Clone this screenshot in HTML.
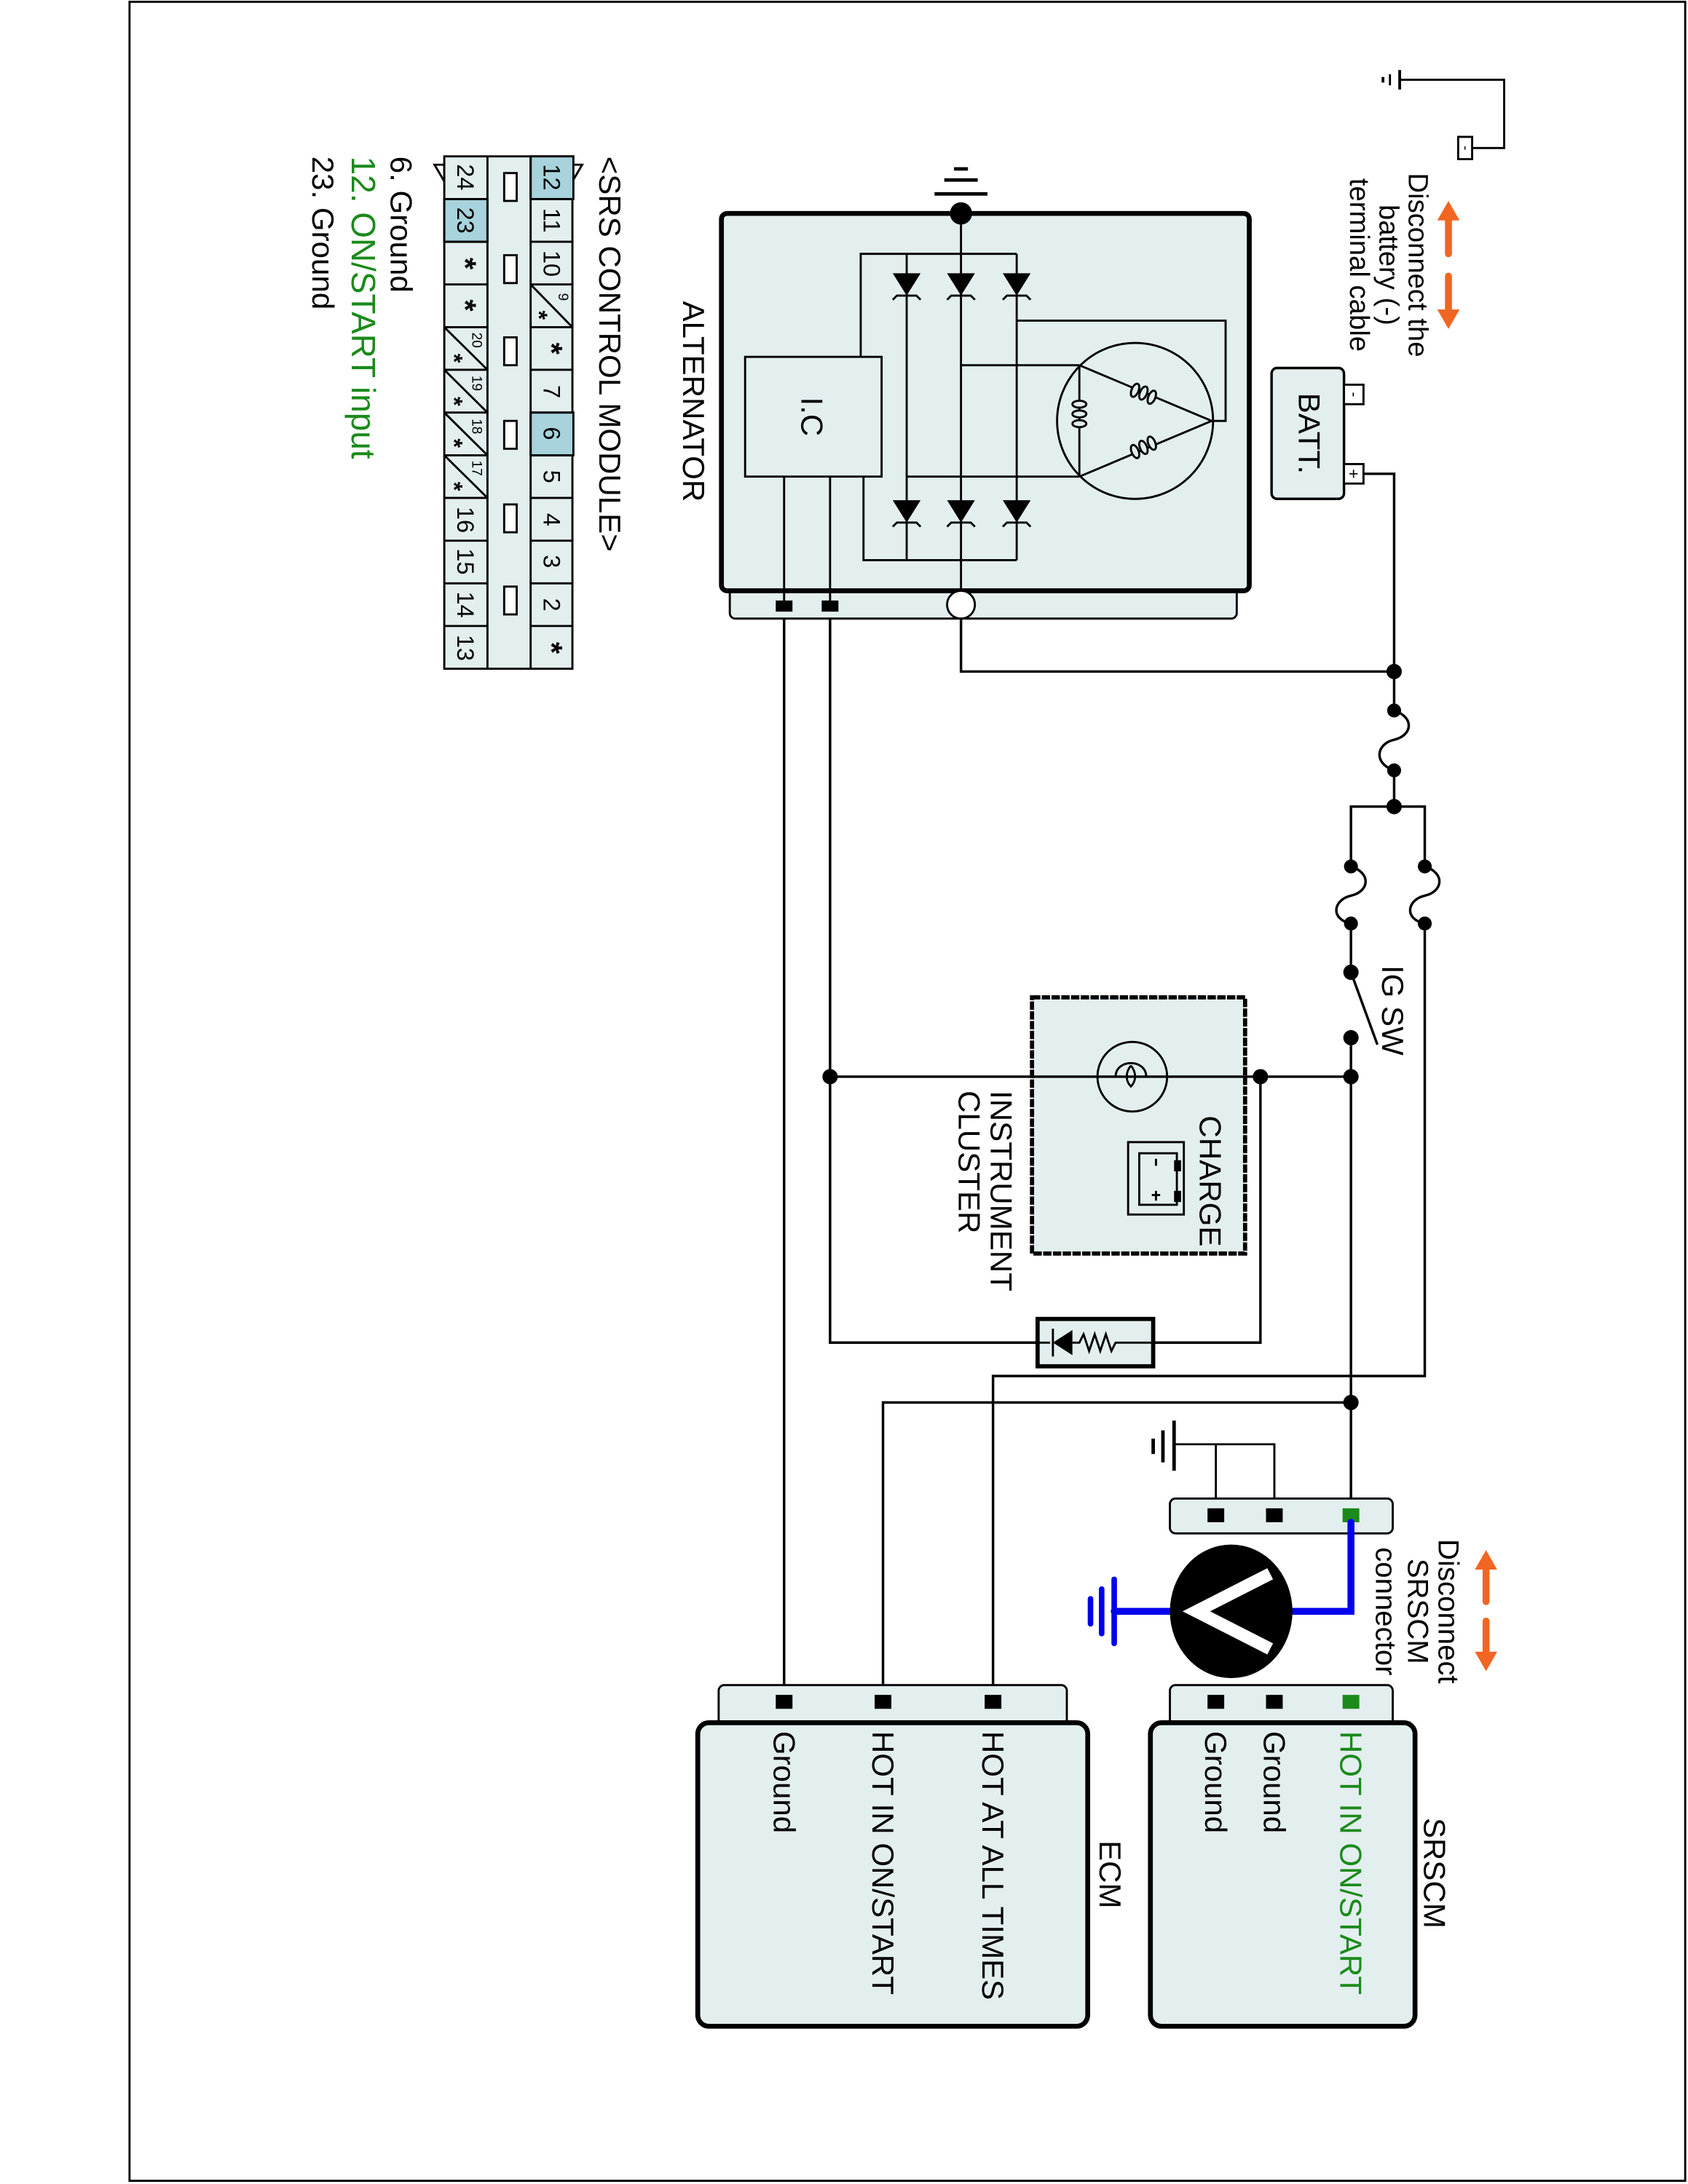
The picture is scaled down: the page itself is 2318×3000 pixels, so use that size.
<!DOCTYPE html>
<html><head><meta charset="utf-8">
<style>
html,body{margin:0;padding:0;background:#fff;}
svg{display:block;}
text{font-family:"Liberation Sans",Arial,sans-serif;}
</style></head>
<body>
<svg width="2318" height="3000" viewBox="0 0 1212 1568" xmlns="http://www.w3.org/2000/svg">
<rect x="0" y="0" width="1212" height="1568" fill="#fff"/>
<rect x="93" y="1" width="1117" height="1565" fill="none" stroke="#000" stroke-width="1.5"/>

<g stroke="#000" stroke-width="1.5" fill="none">
<polyline points="1005,57 1080,57 1080,106 1057,106"/>
<line x1="1005" y1="50" x2="1005" y2="64" stroke-width="2"/>
<line x1="998" y1="53" x2="998" y2="61"/>
<line x1="993" y1="55" x2="993" y2="59" stroke-width="2"/>
<rect x="1047" y="98" width="10" height="16" fill="#fff"/>
</g>
<text transform="translate(1052,106) rotate(90)" font-size="10" text-anchor="middle" dominant-baseline="central">-</text>

<g fill="#f26522" stroke="#f26522">
<line x1="1040" y1="155" x2="1040" y2="182" stroke-width="5" stroke-linecap="round"/>
<polygon points="1040,144 1032,158 1048,158" stroke="none"/>
<line x1="1040" y1="198" x2="1040" y2="224" stroke-width="5" stroke-linecap="round"/>
<polygon points="1040,236 1032,222 1048,222" stroke="none"/>
</g>
<g font-size="20" text-anchor="middle" dominant-baseline="central">
<text transform="translate(1018,190) rotate(90)">Disconnect the</text>
<text transform="translate(997,190) rotate(90)">battery (-)</text>
<text transform="translate(976,190) rotate(90)">terminal cable</text>
</g>

<rect x="913" y="264" width="52" height="94" rx="4" fill="#e3eeef" stroke="#000" stroke-width="1.8"/>
<rect x="965" y="276" width="14" height="14" fill="#fff" stroke="#000" stroke-width="1.5"/>
<rect x="965" y="333" width="14" height="14" fill="#fff" stroke="#000" stroke-width="1.5"/>
<text transform="translate(972,283) rotate(90)" font-size="11" text-anchor="middle" dominant-baseline="central">-</text>
<text transform="translate(972,340) rotate(90)" font-size="12" text-anchor="middle" dominant-baseline="central">+</text>
<text transform="translate(940,311) rotate(90)" font-size="22" text-anchor="middle" dominant-baseline="central">BATT.</text>

<rect x="524" y="420" width="364" height="24" rx="4" fill="#e3eeef" stroke="#000" stroke-width="1.5"/>
<rect x="518" y="153" width="379" height="271" rx="4" fill="#e3eeef" stroke="#000" stroke-width="3.5"/>
<g stroke="#000" stroke-width="1.5" fill="none">
<rect x="535" y="256" width="98" height="86" />
<polyline points="618,256 618,182 730,182"/>
<polyline points="620,342 620,402 730,402"/>
<line x1="651" y1="182" x2="651" y2="402"/>
<line x1="690" y1="153" x2="690" y2="424"/>
<line x1="730" y1="182" x2="730" y2="402"/>
<line x1="563" y1="342" x2="563" y2="435"/>
<line x1="596" y1="342" x2="596" y2="435"/>
<circle cx="815" cy="302" r="56"/>
<polyline points="690,262 775,262"/>
<polyline points="651,342 775,342"/>
<polyline points="730,230 880,230 880,302 870,302"/>
<line x1="775" y1="262" x2="775" y2="342"/>
<line x1="775" y1="262" x2="870" y2="302"/>
<line x1="775" y1="342" x2="870" y2="302"/>
</g>
<g stroke="#000" stroke-width="1.5" fill="#e3eeef">
<ellipse cx="775" cy="290" rx="5" ry="2.5"/><ellipse cx="775" cy="297" rx="5" ry="2.5"/><ellipse cx="775" cy="304" rx="5" ry="2.5"/>
<ellipse cx="815" cy="280" rx="2.5" ry="5" transform="rotate(23 815 280)"/><ellipse cx="821" cy="282" rx="2.5" ry="5" transform="rotate(23 821 282)"/><ellipse cx="827" cy="285" rx="2.5" ry="5" transform="rotate(23 827 285)"/>
<ellipse cx="815" cy="324" rx="2.5" ry="5" transform="rotate(-23 815 324)"/><ellipse cx="821" cy="321" rx="2.5" ry="5" transform="rotate(-23 821 321)"/><ellipse cx="827" cy="318" rx="2.5" ry="5" transform="rotate(-23 827 318)"/>
</g>
<g fill="#000" stroke="#000" stroke-width="1.5">
<g id="d1"><polygon points="641,196 661,196 651,212" stroke="none"/><polyline points="641,215 644,212 658,212 661,215" fill="none"/></g>
<use href="#d1" x="39"/><use href="#d1" x="79"/>
<use href="#d1" y="163"/><use href="#d1" x="39" y="163"/><use href="#d1" x="79" y="163"/>
</g>
<text transform="translate(583,299) rotate(90)" font-size="22" text-anchor="middle" dominant-baseline="central">I.C</text>
<text transform="translate(498,288) rotate(90)" font-size="22" text-anchor="middle" dominant-baseline="central">ALTERNATOR</text>
<circle cx="690" cy="153" r="8" fill="#000"/>
<g stroke="#000" stroke-width="2.5">
<line x1="671" y1="139" x2="709" y2="139"/>
<line x1="678" y1="129" x2="702" y2="129"/>
<line x1="685" y1="121" x2="695" y2="121"/>
</g>
<rect x="557" y="431" width="12" height="8" fill="#000"/>
<rect x="590" y="431" width="12" height="8" fill="#000"/>
<circle cx="690" cy="434" r="10" fill="#fff" stroke="#000" stroke-width="1.5"/>

<g stroke="#000" stroke-width="1.8" fill="none">
<polyline points="979,340 1001,340 1001,510"/>
<path d="M1001,510 C1016,515 1014,528 1001,531 C988,534 986,548 1001,553"/>
<line x1="1001" y1="553" x2="1001" y2="579"/>
<polyline points="690,444 690,482 1001,482"/>
<polyline points="970,622 970,579 1023,579 1023,622"/>
<path d="M970,622 C985,627 983,640 970,643 C957,646 955,660 970,663"/>
<path d="M1023,622 C1038,627 1036,640 1023,643 C1010,646 1008,660 1023,663"/>
<line x1="970" y1="663" x2="970" y2="698"/>
<line x1="970" y1="698" x2="989" y2="750"/>
<line x1="970" y1="745" x2="970" y2="1088"/>
<polyline points="1023,663 1023,988 713,988 713,1222"/>
<polyline points="970,1007 634,1007 634,1222"/>
<line x1="563" y1="444" x2="563" y2="1222"/>
<polyline points="596,444 596,964 828,964"/>
<polyline points="596,773 970,773"/>
<polyline points="905,773 905,964 828,964"/>
</g>
<g fill="#000">
<circle cx="1001" cy="482" r="5.5"/><circle cx="1001" cy="510" r="5"/><circle cx="1001" cy="553" r="5"/><circle cx="1001" cy="579" r="5.5"/>
<circle cx="970" cy="622" r="5"/><circle cx="970" cy="663" r="5"/><circle cx="1023" cy="622" r="5"/><circle cx="1023" cy="663" r="5"/>
<circle cx="970" cy="698" r="5.5"/><circle cx="970" cy="745" r="5.5"/>
<circle cx="970" cy="773" r="5.5"/><circle cx="905" cy="773" r="5.5"/><circle cx="596" cy="773" r="5.5"/>
<circle cx="970" cy="1007" r="5.5"/>
</g>
<text transform="translate(1000,693) rotate(90)" font-size="22" dominant-baseline="central">IG SW</text>

<rect x="741" y="716" width="153" height="184" fill="#e3eeef" stroke="#000" stroke-width="3" stroke-dasharray="6,1"/>
<circle cx="813" cy="773" r="25" fill="#e3eeef" stroke="#000" stroke-width="1.5"/>
<g stroke="#000" stroke-width="1.5" fill="none">
<line x1="741" y1="773" x2="894" y2="773" stroke-width="1.8"/>
<path d="M801,773 C801,760 823,760 823,773 M812,765 C808,770 808,776 812,780 C816,776 816,770 812,765"/>
<rect x="810" y="820" width="40" height="52"/>
<rect x="818" y="828" width="27" height="37"/>
<line x1="830" y1="832" x2="830" y2="837"/>
<line x1="830" y1="855" x2="830" y2="862"/>
<line x1="827" y1="858" x2="833" y2="858"/>
</g>
<rect x="843" y="833" width="5" height="8" fill="#000"/><rect x="843" y="855" width="5" height="8" fill="#000"/>
<text transform="translate(869,848) rotate(90)" font-size="22" text-anchor="middle" dominant-baseline="central">CHARGE</text>
<text transform="translate(719,783) rotate(90)" font-size="22" dominant-baseline="central">INSTRUMENT</text>
<text transform="translate(696,783) rotate(90)" font-size="22" dominant-baseline="central">CLUSTER</text>

<rect x="745" y="947" width="83" height="34" fill="#e3eeef" stroke="#000" stroke-width="3"/>
<g stroke="#000" stroke-width="1.5" fill="none">
<line x1="745" y1="964" x2="754" y2="964"/>
<line x1="756" y1="954" x2="756" y2="974"/>
<polyline points="770,964 775,964 778,958 782,970 786,958 790,970 794,958 798,970 801,964 828,964"/>
</g>
<polygon points="756,964 770,955 770,973" fill="#000"/>

<g stroke="#000" stroke-width="1.5" fill="none">
<polyline points="873,1088 873,1037 915,1037 915,1088"/>
<line x1="843" y1="1037" x2="873" y2="1037"/>
<line x1="843" y1="1020" x2="843" y2="1056" stroke-width="2.5"/>
<line x1="835" y1="1027" x2="835" y2="1050" stroke-width="2.5"/>
<line x1="828" y1="1033" x2="828" y2="1044" stroke-width="2.5"/>
</g>
<rect x="840" y="1076" width="160" height="25" rx="4" fill="#e3eeef" stroke="#000" stroke-width="1.5"/>
<rect x="867" y="1083" width="12" height="10" fill="#000"/>
<rect x="909" y="1083" width="12" height="10" fill="#000"/>
<rect x="964" y="1083" width="12" height="10" fill="#1a8a1a"/>

<g stroke="#0000ee" stroke-width="5" fill="none" stroke-linecap="round">
<polyline points="970,1093 970,1157 927,1157"/>
<line x1="841" y1="1157" x2="800" y2="1157"/>
<line x1="800" y1="1134" x2="800" y2="1180" stroke-width="4"/>
<line x1="791" y1="1141" x2="791" y2="1173" stroke-width="4"/>
<line x1="783" y1="1148" x2="783" y2="1166" stroke-width="4"/>
</g>
<ellipse cx="884" cy="1157" rx="44" ry="48" fill="#000"/>
<polyline points="912,1130 859,1157 912,1184" fill="none" stroke="#fff" stroke-width="9" stroke-linejoin="miter"/>

<g fill="#f26522" stroke="#f26522">
<line x1="1067" y1="1126" x2="1067" y2="1150" stroke-width="5" stroke-linecap="round"/>
<polygon points="1067,1113 1059,1127 1075,1127" stroke="none"/>
<line x1="1067" y1="1164" x2="1067" y2="1188" stroke-width="5" stroke-linecap="round"/>
<polygon points="1067,1200 1059,1186 1075,1186" stroke="none"/>
</g>
<g font-size="21" text-anchor="middle" dominant-baseline="central">
<text transform="translate(1040,1157) rotate(90)">Disconnect</text>
<text transform="translate(1018,1157) rotate(90)">SRSCM</text>
<text transform="translate(995,1157) rotate(90)">connector</text>
</g>

<rect x="840" y="1210" width="160" height="30" rx="4" fill="#e3eeef" stroke="#000" stroke-width="1.5"/>
<rect x="826" y="1237" width="190" height="218" rx="8" fill="#e3eeef" stroke="#000" stroke-width="3.5"/>
<rect x="867" y="1217" width="12" height="10" fill="#000"/>
<rect x="909" y="1217" width="12" height="10" fill="#000"/>
<rect x="964" y="1217" width="12" height="10" fill="#1a8a1a"/>
<g font-size="22" dominant-baseline="central">
<text transform="translate(970,1243) rotate(90)" fill="#1a8a1a">HOT IN ON/START</text>
<text transform="translate(915,1243) rotate(90)">Ground</text>
<text transform="translate(873,1243) rotate(90)">Ground</text>
<text transform="translate(1030,1345) rotate(90)" text-anchor="middle">SRSCM</text>
</g>

<rect x="516" y="1210" width="250" height="30" rx="4" fill="#e3eeef" stroke="#000" stroke-width="1.5"/>
<rect x="501" y="1237" width="280" height="218" rx="8" fill="#e3eeef" stroke="#000" stroke-width="3.5"/>
<rect x="557" y="1217" width="12" height="10" fill="#000"/>
<rect x="628" y="1217" width="12" height="10" fill="#000"/>
<rect x="707" y="1217" width="12" height="10" fill="#000"/>
<g font-size="22" dominant-baseline="central">
<text transform="translate(713,1243) rotate(90)">HOT AT ALL TIMES</text>
<text transform="translate(634,1243) rotate(90)">HOT IN ON/START</text>
<text transform="translate(563,1243) rotate(90)">Ground</text>
<text transform="translate(797,1346) rotate(90)" text-anchor="middle">ECM</text>
</g>

<g stroke="#000" stroke-width="1.5">
<polygon points="411,130 411,118 418,118" fill="#fff"/>
<polygon points="319,130 319,118 312,118" fill="#fff"/>
<rect x="319" y="112" width="92" height="368" fill="#e3eeef"/>
<rect x="381" y="112" width="30.7" height="30.7" fill="#a8d3dc"/>
<rect x="381" y="296" width="30.7" height="30.7" fill="#a8d3dc"/>
<rect x="319" y="142.7" width="31" height="30.7" fill="#a8d3dc"/>
<line x1="350" y1="112" x2="350" y2="480"/>
<line x1="381" y1="112" x2="381" y2="480"/>
<g fill="none">
<line x1="319" y1="142.7" x2="350" y2="142.7"/><line x1="381" y1="142.7" x2="411" y2="142.7"/>
<line x1="319" y1="173.3" x2="350" y2="173.3"/><line x1="381" y1="173.3" x2="411" y2="173.3"/>
<line x1="319" y1="204" x2="350" y2="204"/><line x1="381" y1="204" x2="411" y2="204"/>
<line x1="319" y1="234.7" x2="350" y2="234.7"/><line x1="381" y1="234.7" x2="411" y2="234.7"/>
<line x1="319" y1="265.3" x2="350" y2="265.3"/><line x1="381" y1="265.3" x2="411" y2="265.3"/>
<line x1="319" y1="296" x2="350" y2="296"/><line x1="381" y1="296" x2="411" y2="296"/>
<line x1="319" y1="326.7" x2="350" y2="326.7"/><line x1="381" y1="326.7" x2="411" y2="326.7"/>
<line x1="319" y1="357.3" x2="350" y2="357.3"/><line x1="381" y1="357.3" x2="411" y2="357.3"/>
<line x1="319" y1="388" x2="350" y2="388"/><line x1="381" y1="388" x2="411" y2="388"/>
<line x1="319" y1="418.7" x2="350" y2="418.7"/><line x1="381" y1="418.7" x2="411" y2="418.7"/>
<line x1="319" y1="449.3" x2="350" y2="449.3"/><line x1="381" y1="449.3" x2="411" y2="449.3"/>
<line x1="381" y1="204" x2="411" y2="234.7"/>
<line x1="319" y1="234.7" x2="350" y2="265.3"/>
<line x1="319" y1="265.3" x2="350" y2="296"/>
<line x1="319" y1="296" x2="350" y2="326.7"/>
<line x1="319" y1="326.7" x2="350" y2="357.3"/>
</g>
<g fill="#fff">
<rect x="362" y="124" width="9" height="20"/>
<rect x="362" y="183" width="9" height="20"/>
<rect x="362" y="242" width="9" height="20"/>
<rect x="362" y="302" width="9" height="20"/>
<rect x="362" y="362" width="9" height="20"/>
<rect x="362" y="421" width="9" height="20"/>
</g>
</g>
<g font-size="17" text-anchor="middle" dominant-baseline="central">
<text transform="translate(396,127) rotate(90)">12</text>
<text transform="translate(396,158) rotate(90)">11</text>
<text transform="translate(396,189) rotate(90)">10</text>
<text transform="translate(396,250) rotate(90)" font-size="22" font-weight="bold">*</text>
<text transform="translate(396,281) rotate(90)">7</text>
<text transform="translate(396,311) rotate(90)">6</text>
<text transform="translate(396,342) rotate(90)">5</text>
<text transform="translate(396,373) rotate(90)">4</text>
<text transform="translate(396,403) rotate(90)">3</text>
<text transform="translate(396,434) rotate(90)">2</text>
<text transform="translate(396,465) rotate(90)" font-size="22" font-weight="bold">*</text>
<text transform="translate(404,213) rotate(90)" font-size="10">9</text>
<text transform="translate(387,226) rotate(90)" font-size="17" font-weight="bold">*</text>
<text transform="translate(334,127) rotate(90)">24</text>
<text transform="translate(334,158) rotate(90)">23</text>
<text transform="translate(334,189) rotate(90)" font-size="22" font-weight="bold">*</text>
<text transform="translate(334,219) rotate(90)" font-size="22" font-weight="bold">*</text>
<text transform="translate(342,244) rotate(90)" font-size="10">20</text>
<text transform="translate(326,257) rotate(90)" font-size="17" font-weight="bold">*</text>
<text transform="translate(342,275) rotate(90)" font-size="10">19</text>
<text transform="translate(326,288) rotate(90)" font-size="17" font-weight="bold">*</text>
<text transform="translate(342,306) rotate(90)" font-size="10">18</text>
<text transform="translate(326,318) rotate(90)" font-size="17" font-weight="bold">*</text>
<text transform="translate(342,336) rotate(90)" font-size="10">17</text>
<text transform="translate(326,349) rotate(90)" font-size="17" font-weight="bold">*</text>
<text transform="translate(334,373) rotate(90)">16</text>
<text transform="translate(334,403) rotate(90)">15</text>
<text transform="translate(334,434) rotate(90)">14</text>
<text transform="translate(334,465) rotate(90)">13</text>
</g>
<g font-size="22" dominant-baseline="central">
<text transform="translate(438,112) rotate(90)">&lt;SRS CONTROL MODULE&gt;</text>
<text transform="translate(288,112) rotate(90)">6. Ground</text>
<text transform="translate(261,112) rotate(90)" fill="#1a8a1a" font-size="24">12. ON/START input</text>
<text transform="translate(232,112) rotate(90)">23. Ground</text>
</g>
</svg>
</body></html>
